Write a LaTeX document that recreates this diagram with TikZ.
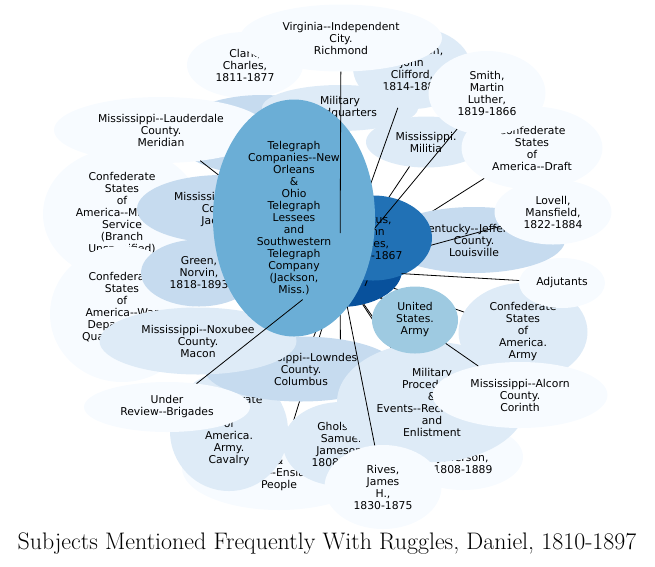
\documentclass[tikz,border=0pt]{standalone}
\usepackage{fontspec}
\newfontfamily\nodefont[Ligatures=TeXOff]{DejaVu Sans}
\usetikzlibrary{shapes.geometric}
\definecolor{bl1}{HTML}{F7FBFF}
\definecolor{bl2}{HTML}{DEEBF7}
\definecolor{bl3}{HTML}{C6DBEF}
\definecolor{bl4}{HTML}{9ECAE1}
\definecolor{bl5}{HTML}{6BAED6}
\definecolor{bl7}{HTML}{2171B5}
\definecolor{bl8}{HTML}{08519C}
\tikzset{
	subj/.style={ellipse,inner sep=0,outer sep=0,align=center,text=black,font=\nodefont\fontsize{10.8}{12}\selectfont},
	c1/.style={subj,fill=bl1},
	c2/.style={subj,fill=bl2},
	c3/.style={subj,fill=bl3},
	c4/.style={subj,fill=bl4},
	c5/.style={subj,fill=bl5},
	c7/.style={subj,fill=bl7},
	c8/.style={subj,fill=bl8},
	link/.style={line width=0.8pt}
}
\begin{document}
\begin{tikzpicture}[x=1pt,y=-1pt]
	\useasboundingbox (0,0) rectangle (655,566);
	\node[c8,minimum width=124pt,minimum height=74pt] (0) at (340,270) {Ruggles,\\Daniel,\\1810-1897};
	\node[c1,minimum width=116pt,minimum height=66pt] (2) at (245,65) {Clark,\\Charles,\\1811-1877};
	\draw[link] (0) -- (2);
	\node[c3,minimum width=176pt,minimum height=80pt] (30) at (262,135) {};
	\draw[link] (0) -- (30);
	\node[c1,minimum width=158pt,minimum height=132pt] (25) at (122,214) {Confederate\\States\\of\\America--Military\\Service\\(Branch\\Unspecified)};
	\draw[link] (0) -- (25);
	\node[c1,minimum width=144pt,minimum height=136pt] (24) at (122,314) {Confederate\\States\\of\\America--War\\Department.\\Quartermaster\\Dept.};
	\draw[link] (0) -- (24);
	\node[c1,minimum width=214pt,minimum height=66pt] (6) at (161,130) {Mississippi--Lauderdale\\County.\\Meridian};
	\draw[link] (0) -- (6);
	\node[c3,minimum width=170pt,minimum height=68pt] (26) at (222,209) {Mississippi--Hinds\\County.\\Jackson};
	\draw[link] (0) -- (26);
	\node[c3,minimum width=116pt,minimum height=67pt] (27) at (199,273) {Green,\\Norvin,\\1818-1893};
	\draw[link] (0) -- (27);
	\node[c1,minimum width=194pt,minimum height=84pt] (19) at (279,468) {Slavery\\\&\\Slaves--Enslaved\\People};
	\draw[link] (0) -- (19);
	\node[c2,minimum width=118pt,minimum height=120pt] (20) at (229,431) {Confederate\\States\\of\\America.\\Army.\\Cavalry};
	\draw[link] (0) -- (20);
	\node[c2,minimum width=116pt,minimum height=84pt] (18) at (341,444) {Gholson,\\Samuel\\Jameson,\\1808-1883};
	\draw[link] (0) -- (18);
	\node[c3,minimum width=193pt,minimum height=65pt] (22) at (301,369) {Mississippi--Lowndes\\County.\\Columbus};
	\draw[link] (0) -- (22);
	\node[c2,minimum width=197pt,minimum height=67pt] (23) at (198,341) {Mississippi--Noxubee\\County.\\Macon};
	\draw[link] (0) -- (23);
	\node[c1,minimum width=166pt,minimum height=50pt] (21) at (167,407) {Under\\Review--Brigades};
	\node[c1,minimum width=120pt,minimum height=66pt] (16) at (463,457) {Davis,\\Jefferson,\\1808-1889};
	\draw[link] (0) -- (16);
	\node[c2,minimum width=190pt,minimum height=120pt] (15) at (432,402) {Military\\Procedures\\\&\\Events--Recruitment\\and\\Enlistment};
	\draw[link] (0) -- (15);
	\node[c1,minimum width=117pt,minimum height=84pt] (17) at (383,487) {Rives,\\James\\H.,\\1830-1875};
	\node[c2,minimum width=129pt,minimum height=98pt] (13) at (523,332) {Confederate\\States\\of\\America.\\Army};
	\draw[link] (0) -- (13);
	\node[c1,minimum width=175pt,minimum height=66pt] (14) at (520,395) {Mississippi--Alcorn\\County.\\Corinth};
	\draw[link] (0) -- (14);
	\node[c4,minimum width=86pt,minimum height=67pt] (12) at (415,320) {United\\States.\\Army};
	\draw[link] (0) -- (12);
	\node[c1,minimum width=86pt,minimum height=50pt] (11) at (562,283) {Adjutants};
	\node[c2,minimum width=118pt,minimum height=82pt] (3) at (412,68) {Pemberton,\\John\\Clifford,\\1814-1881};
	\node[c2,minimum width=120pt,minimum height=51pt] (7) at (426,142) {Mississippi.\\Militia};
	\node[c1,minimum width=141pt,minimum height=83pt] (8) at (532,148) {Confederate\\States\\of\\America--Draft};
	\draw[link] (0) -- (8);
	\node[c1,minimum width=117pt,minimum height=84pt] (4) at (487,93) {Smith,\\Martin\\Luther,\\1819-1866};
	\node[c1,minimum width=202pt,minimum height=67pt] (1) at (341,38) {Virginia--Independent\\City.\\Richmond};
	\node[c2,minimum width=156pt,minimum height=46pt] (5) at (340,108) {Military\\Headquarters};
	\draw[link] (0) -- (5);
	\draw[link] (0) -- (3);
	\draw[link] (0) -- (7);
	\node[c3,minimum width=182pt,minimum height=66pt] (10) at (474,240) {Kentucky--Jefferson\\County.\\Louisville};
	\draw[link] (0) -- (10);
	\node[c1,minimum width=117pt,minimum height=65pt] (9) at (553,212) {Lovell,\\Mansfield,\\1822-1884};
	\draw[link] (0) -- (9);
	\node[c7,minimum width=118pt,minimum height=85pt] (28) at (373,238) {Pettus,\\John\\Jones,\\1813-1867};
	\draw[link] (0) -- (28);
	\draw[link] (0) -- (4);
	\node[c5,minimum width=162pt,minimum height=237pt] (29) at (294,218) {Telegraph\\Companies--New\\Orleans\\\&\\Ohio\\Telegraph\\Lessees\\and\\Southwestern\\Telegraph\\Company\\(Jackson,\\Miss.)};
	\draw[link] (0) -- (1);
	\draw[link] (0) -- (21);
	\draw[link] (0) -- (17);
	\draw[link] (0) -- (11);
	\node[font=\fontsize{23.9}{27}\selectfont] (title) at (327,544) {Subjects Mentioned Frequently With Ruggles, Daniel, 1810-1897};
\end{tikzpicture}
\end{document}
